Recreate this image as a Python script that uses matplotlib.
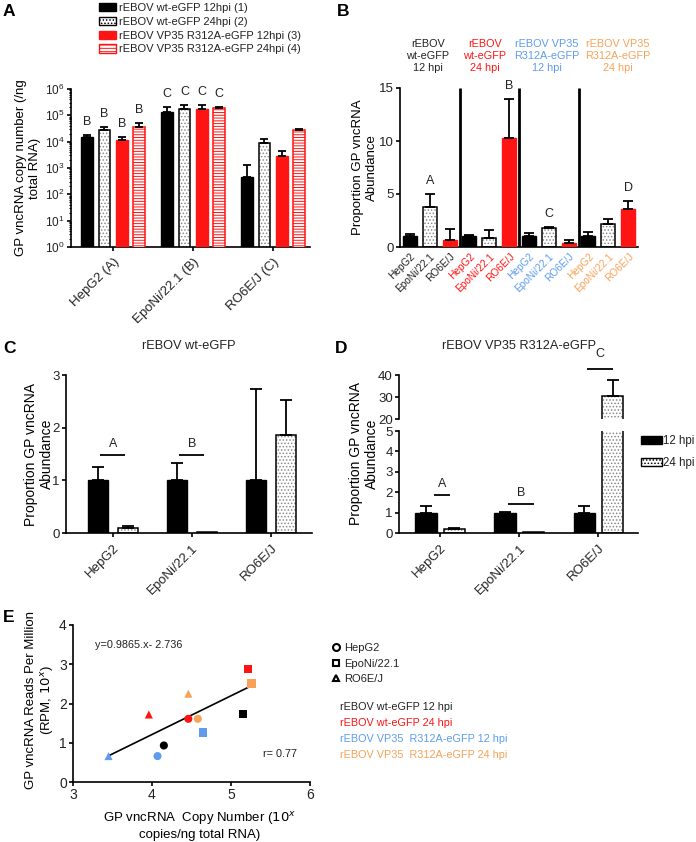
import matplotlib
matplotlib.use('Agg')
import matplotlib.pyplot as plt
import numpy as np
from matplotlib.patches import Patch
from matplotlib.lines import Line2D

plt.rcParams['font.family'] = ['Liberation Sans', 'DejaVu Sans']
plt.rcParams['font.size'] = 8
plt.rcParams['hatch.linewidth'] = 0.7
plt.rcParams['axes.linewidth'] = 1.2
plt.rcParams['xtick.major.width'] = 1.2
plt.rcParams['ytick.major.width'] = 1.2
plt.rcParams['xtick.major.size'] = 3
plt.rcParams['ytick.major.size'] = 3
TXT = '#222222'
plt.rcParams['text.color'] = TXT
plt.rcParams['xtick.color'] = 'black'
plt.rcParams['ytick.color'] = 'black'
plt.rcParams['xtick.labelcolor'] = TXT
plt.rcParams['ytick.labelcolor'] = TXT

RED = '#ff1414'
BLUE = '#5f9cf0'
ORANGE = '#f7a258'
DOTGREY = '#8a8a8a'

# ---------------- Data ----------------
# Panel A
cells_A = ['HepG2 (A)', 'EpoNi/22.1 (B)', 'RO6E/J (C)']
series_A = ['rEBOV wt-eGFP 12hpi (1)', 'rEBOV wt-eGFP 24hpi (2)',
            'rEBOV VP35 R312A-eGFP 12hpi (3)', 'rEBOV VP35 R312A-eGFP 24hpi (4)']
a_wt12 = [1.5e4, 1.35e5, 460]
a_wt12_err = [0.32e4, 0.74e5, 860]
a_wt24 = [2.8e4, 1.8e5, 9000]
a_wt24_err = [0.83e4, 0.7e5, 3600]
a_vp12 = [1.2e4, 1.8e5, 2900]
a_vp12_err = [0.3e4, 0.7e5, 1570]
a_vp24 = [3.6e4, 1.9e5, 2.8e4]
a_vp24_err = [1.5e4, 0.2e5, 0.3e4]
letters_A = [['B', 'B', 'B', 'B'], ['C', 'C', 'C', 'C'], ['', '', '', '']]

# Panel B
cells_B = ['HepG2', 'EpoNi/22.1', 'RO6E/J']
conditions_B = ['rEBOV\nwt-eGFP\n12 hpi', 'rEBOV\nwt-eGFP\n24 hpi',
                'rEBOV VP35\nR312A-eGFP\n12 hpi', 'rEBOV VP35\nR312A-eGFP\n24 hpi']
b_wt12 = [1.0, 3.74, 0.69]
b_wt12_err = [0.2, 1.26, 1.0]
b_wt24 = [1.0, 0.85, 10.3]
b_wt24_err = [0.13, 0.72, 3.7]
b_vp12 = [1.0, 1.8, 0.38]
b_vp12_err = [0.3, 0.1, 0.31]
b_vp24 = [1.0, 2.17, 3.58]
b_vp24_err = [0.38, 0.5, 0.79]
letters_B = [['', 'A', ''], ['', '', 'B'], ['', 'C', ''], ['', '', 'D']]

# Panel C
cells_C = ['HepG2', 'EpoNi/22.1', 'RO6E/J']
c_12 = [1.0, 1.0, 1.0]
c_12_err = [0.25, 0.33, 1.73]
c_24 = [0.1, 0.012, 1.86]
c_24_err = [0.03, 0.0, 0.67]
sig_C = ['A', 'B', '']
sig_C_y = 1.48

# Panel D
d_12 = [1.0, 1.0, 1.0]
d_12_err = [0.32, 0.03, 0.32]
d_24 = [0.18, 0.03, 30.3]
d_24_err = [0.07, 0.0, 7.6]
sig_D = ['A', 'B', 'C']
sig_D_y = [1.85, 1.4, 42.6]

# Panel E
e_cond = ['wt12', 'wt12', 'wt24', 'wt24', 'wt24', 'vp12', 'vp12', 'vp12', 'vp24', 'vp24', 'vp24']
e_cell = ['HepG2', 'EpoNi/22.1', 'HepG2', 'EpoNi/22.1', 'RO6E/J',
          'HepG2', 'EpoNi/22.1', 'RO6E/J', 'HepG2', 'EpoNi/22.1', 'RO6E/J']
e_x = [4.15, 5.15, 4.46, 5.22, 3.96, 4.07, 4.65, 3.45, 4.58, 5.26, 4.46]
e_y = [0.93, 1.74, 1.61, 2.88, 1.72, 0.66, 1.26, 0.66, 1.61, 2.51, 2.25]
e_slope = 0.9865
e_intercept = -2.736
e_r = 0.77
cond_labels_E = ['rEBOV wt-eGFP 12 hpi', 'rEBOV wt-eGFP 24 hpi',
                 'rEBOV VP35  R312A-eGFP 12 hpi', 'rEBOV VP35  R312A-eGFP 24 hpi']

# ---------------- Figure ----------------
W, H = 696, 842
fig = plt.figure(figsize=(W / 100, H / 100), dpi=100)


def ax_px(l, r, t, b):
    return fig.add_axes([l / W, 1 - b / H, (r - l) / W, (b - t) / H])


def style(ax):
    for s in ['top', 'right']:
        ax.spines[s].set_visible(False)
    ax.tick_params(direction='out')


def dotted_bar(ax, x, h, w):
    ax.bar(x, h, w, color='white', edgecolor=DOTGREY, hatch='.....', linewidth=0, zorder=2)
    ax.bar(x, h, w, fill=False, edgecolor='black', linewidth=1.1, zorder=3)


def err_up(ax, x, h, e, color='black', capw=3):
    ax.errorbar(x, h, yerr=[[0], [e]], fmt='none', ecolor=color, elinewidth=1.3,
                capsize=capw, capthick=1.3, zorder=4)


# ---------- Panel A ----------
axA = ax_px(71, 310, 89, 247)
style(axA)
axA.set_yscale('log')
axA.set_ylim(1, 1e6)
axA.set_xlim(-0.525, 2.46)
xs = np.arange(3)
sp, bw = 0.217, 0.145
offs = [-1.5 * sp, -0.5 * sp, 0.5 * sp, 1.5 * sp]
vals = [a_wt12, a_wt24, a_vp12, a_vp24]
errs = [a_wt12_err, a_wt24_err, a_vp12_err, a_vp24_err]
for k in range(4):
    xk = xs + offs[k]
    if k == 0:
        axA.bar(xk, vals[k], bw, color='black', edgecolor='black', linewidth=1, zorder=3)
    elif k == 1:
        for xi, v in zip(xk, vals[k]):
            dotted_bar(axA, xi, v, bw)
    elif k == 2:
        axA.bar(xk, vals[k], bw, color=RED, edgecolor=RED, linewidth=1, zorder=3)
    else:
        axA.bar(xk, vals[k], bw, color='white', edgecolor=RED, hatch='------', linewidth=1.1, zorder=3)
    for i, (xi, v, e) in enumerate(zip(xk, vals[k], errs[k])):
        err_up(axA, xi, v, e)
        if letters_A[i][k]:
            axA.annotate(letters_A[i][k], (xi, v + e), xytext=(0, 5), textcoords='offset points',
                         ha='center', va='bottom', fontsize=9)
axA.set_xticks(xs)
axA.set_xticklabels(cells_A, rotation=45, ha='right', rotation_mode='anchor', fontsize=9.5)
axA.tick_params(axis='y', labelsize=8.5, pad=1.5)
axA.tick_params(axis='y', which='minor', length=1.8, width=0.8)
axA.set_ylabel('GP vncRNA copy number (/ng\ntotal RNA)', fontsize=9.5)
axA.yaxis.set_label_coords(-0.125, 0.5)

handlesA = [Patch(facecolor='black', edgecolor='black'),
            Patch(facecolor='white', edgecolor='black', hatch='.....'),
            Patch(facecolor=RED, edgecolor=RED),
            Patch(facecolor='white', edgecolor=RED, hatch='-----')]
fig.legend(handlesA, series_A, loc='upper left', bbox_to_anchor=(99 / W, 1 - 3 / H),
           frameon=False, handlelength=1.5, handleheight=0.75, handletextpad=0.3,
           labelspacing=0.34, borderaxespad=0, borderpad=0, fontsize=8)

# ---------- Panel B ----------
axB = ax_px(400, 638, 88, 247)
style(axB)
axB.set_ylim(0, 15)
axB.set_xlim(-0.5, 11.5)
b_vals = [b_wt12, b_wt24, b_vp12, b_vp24]
b_errs = [b_wt12_err, b_wt24_err, b_vp12_err, b_vp24_err]
cond_colors = ['#222222', RED, BLUE, ORANGE]
bwB = 0.7
for g in range(4):
    for c in range(3):
        x = g * 3 + c
        v, e = b_vals[g][c], b_errs[g][c]
        if c == 0:
            axB.bar(x, v, bwB, color='black', edgecolor='black', zorder=3)
        elif c == 1:
            dotted_bar(axB, x, v, bwB)
        else:
            axB.bar(x, v, bwB, color=RED, edgecolor=RED, zorder=3)
        err_up(axB, x, v, e, capw=3.5)
        if letters_B[g][c]:
            axB.annotate(letters_B[g][c], (x, v + e), xytext=(0, 5), textcoords='offset points',
                         ha='center', va='bottom', fontsize=9)
axB.vlines([2.5, 5.5, 8.5], 0, 15, colors='black', linewidth=2, zorder=5)
axB.set_yticks([0, 5, 10, 15])
axB.tick_params(axis='y', labelsize=9.5, pad=1.5)
axB.set_xticks(np.arange(12))
axB.set_xticklabels(cells_B * 4, rotation=45, ha='right', rotation_mode='anchor', fontsize=7.3)
for i, t in enumerate(axB.get_xticklabels()):
    t.set_color(cond_colors[i // 3])
axB.tick_params(axis='x', length=0, pad=3)
axB.set_ylabel('Proportion GP vncRNA\nAbundance', fontsize=9.5)
axB.yaxis.set_label_coords(-0.092, 0.5)
hdr_x = [428, 485, 547, 618]
for g in range(4):
    fig.text(hdr_x[g] / W, 1 - 56 / H, conditions_B[g], color=cond_colors[g], ha='center',
             va='center', fontsize=7.8, linespacing=1.25)

# ---------- Panel C ----------
axC = ax_px(66, 312, 375, 533)
style(axC)
axC.set_ylim(0, 3)
axC.set_xlim(-0.59, 2.52)
off, bwC = 0.19, 0.25
for i in range(3):
    axC.bar(i - off, c_12[i], bwC, color='black', edgecolor='black', zorder=3)
    err_up(axC, i - off, c_12[i], c_12_err[i], capw=4)
    dotted_bar(axC, i + off, c_24[i], bwC)
    if c_24_err[i] > 0:
        err_up(axC, i + off, c_24[i], c_24_err[i], capw=4)
    if sig_C[i]:
        axC.hlines(sig_C_y, i - 0.16, i + 0.16, colors='black', linewidth=1.3)
        axC.text(i, sig_C_y + 0.1, sig_C[i], ha='center', va='bottom', fontsize=9)
axC.set_yticks([0, 1, 2, 3])
axC.tick_params(axis='y', labelsize=9.5, pad=1.5)
axC.set_xticks(np.arange(3))
axC.set_xticklabels(cells_C, rotation=45, ha='right', rotation_mode='anchor', fontsize=9.5)
axC.set_ylabel('Proportion GP vncRNA\nAbundance', fontsize=10)
axC.yaxis.set_label_coords(-0.05, 0.5)
axC.set_title('rEBOV wt-eGFP', fontsize=9.2, pad=19)

# ---------- Panel D ----------
axD = ax_px(399, 638, 431, 533)
axDu = ax_px(399, 638, 375, 419)
style(axD)
for s in ['top', 'right', 'bottom']:
    axDu.spines[s].set_visible(False)
axDu.tick_params(axis='x', which='both', bottom=False, labelbottom=False)
axD.set_ylim(0, 5)
axDu.set_ylim(20, 40)
for a in (axD, axDu):
    a.set_xlim(-0.52, 2.5)
    a.tick_params(axis='y', labelsize=9.5, pad=1.5)
offD, bwD = 0.18, 0.27
for a in (axD, axDu):
    for i in range(3):
        a.bar(i - offD, d_12[i], bwD, color='black', edgecolor='black', zorder=3)
        err_up(a, i - offD, d_12[i], d_12_err[i], capw=4)
        dotted_bar(a, i + offD, d_24[i], bwD)
        if d_24_err[i] > 0:
            err_up(a, i + offD, d_24[i], d_24_err[i], capw=4)
half_w = [0.1, 0.16, 0.16]
for i in range(3):
    a = axD if sig_D_y[i] < 5 else axDu
    a.hlines(sig_D_y[i], i - half_w[i] + 0.02, i + half_w[i] + 0.02, colors='black',
             linewidth=1.3, clip_on=False)
    dy = 0.25 if a is axD else 4.0
    a.text(i + 0.02, sig_D_y[i] + dy, sig_D[i], ha='center', va='bottom', fontsize=9, clip_on=False)
axD.set_yticks([0, 1, 2, 3, 4, 5])
axDu.set_yticks([20, 30, 40])
axD.set_xticks(np.arange(3))
axD.set_xticklabels(cells_C, rotation=45, ha='right', rotation_mode='anchor', fontsize=9.5)
axD.set_ylabel('Proportion GP vncRNA\nAbundance', fontsize=10)
axD.yaxis.set_label_coords(-0.084, 0.78)
axDu.set_title('rEBOV VP35 R312A-eGFP', fontsize=9.2, pad=19)
handlesD = [Patch(facecolor='black', edgecolor='black'),
            Patch(facecolor='white', edgecolor='black', hatch='.....')]
fig.legend(handlesD, ['12 hpi', '24 hpi'], loc='upper left', bbox_to_anchor=(641 / W, 1 - 435 / H),
           frameon=False, handlelength=1.8, handleheight=0.7, handletextpad=0.15,
           labelspacing=0.9, borderaxespad=0, borderpad=0, fontsize=8.3)

# ---------- Panel E ----------
axE = ax_px(73, 310, 625, 782)
style(axE)
axE.set_xlim(3, 6)
axE.set_ylim(0, 4)
axE.set_xticks([3, 4, 5, 6])
axE.set_yticks([0, 1, 2, 3, 4])
axE.tick_params(labelsize=10, pad=1.5)
cmapE = {'wt12': 'black', 'wt24': RED, 'vp12': BLUE, 'vp24': ORANGE}
mmapE = {'HepG2': 'o', 'EpoNi/22.1': 's', 'RO6E/J': '^'}
for x, y, cd, cl in zip(e_x, e_y, e_cond, e_cell):
    axE.scatter(x, y, s=34, marker=mmapE[cl], color=cmapE[cd], edgecolors='none', zorder=4)
lx = np.array([min(e_x), 5.25])
axE.plot(lx, e_slope * lx + e_intercept, color='black', linewidth=1.2, zorder=3)
axE.text(3.28, 3.5, 'y=0.9865.x- 2.736', ha='left', va='center', fontsize=7.8)
axE.text(5.4, 0.72, 'r= %.2f' % e_r, ha='left', va='center', fontsize=7.8)
axE.set_ylabel('GP vncRNA Reads Per Million\n(RPM, $10^{x}$)', fontsize=9.5)
axE.yaxis.set_label_coords(-0.07, 0.52)
axE.set_xlabel('GP vncRNA  Copy Number ($10^{x}$\ncopies/ng total RNA)', fontsize=9.5)
axE.xaxis.set_label_coords(0.536, -0.18)

handlesE = [Line2D([], [], marker='o', linestyle='none', markerfacecolor='white',
                   markeredgecolor='black', markeredgewidth=1.5, markersize=5),
            Line2D([], [], marker='s', linestyle='none', markerfacecolor='white',
                   markeredgecolor='black', markeredgewidth=1.5, markersize=5),
            Line2D([], [], marker='^', linestyle='none', markerfacecolor='white',
                   markeredgecolor='black', markeredgewidth=1.5, markersize=5)]
fig.legend(handlesE, ['HepG2', 'EpoNi/22.1', 'RO6E/J'], loc='upper left',
           bbox_to_anchor=(332 / W, 1 - 643 / H), frameon=False, handlelength=0.8,
           handletextpad=0.3, labelspacing=0.5, borderaxespad=0, borderpad=0, fontsize=8)
rowsE = [707, 723, 739, 755]
for lab, c, yy in zip(cond_labels_E, ['#222222', RED, BLUE, ORANGE], rowsE):
    fig.text(340 / W, 1 - yy / H, lab, color=c, ha='left', va='center', fontsize=7.8)

# Panel letters
for lab, px, py in [('A', 9, 12), ('B', 343, 12), ('C', 9, 348), ('D', 341, 348), ('E', 9, 618)]:
    fig.text(px / W, 1 - py / H, lab, fontsize=12.5, fontweight='bold', color='black',
             ha='center', va='center')

fig.savefig('out.png', dpi=100)
